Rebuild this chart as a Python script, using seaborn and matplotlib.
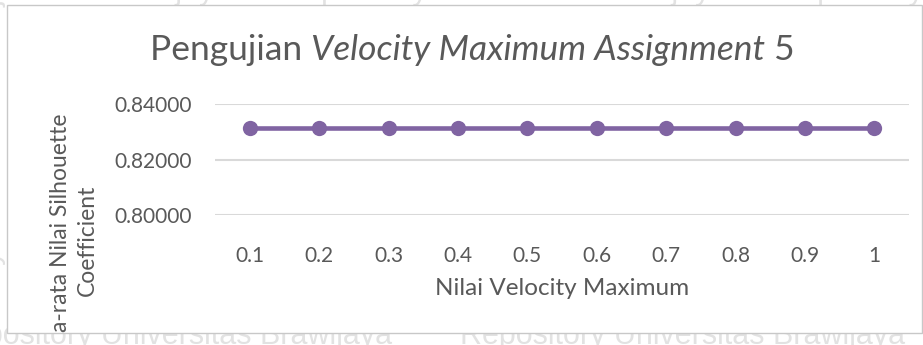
import matplotlib
matplotlib.use("Agg")
import matplotlib.pyplot as plt
import seaborn as sns
import pandas as pd
from matplotlib.patches import Rectangle
from matplotlib.transforms import Bbox, TransformedBbox
from matplotlib.ticker import FormatStrFormatter

# ---- data -------------------------------------------------------------
vmax_labels = ["0.1", "0.2", "0.3", "0.4", "0.5", "0.6", "0.7", "0.8", "0.9", "1"]
silhouette = [0.83146, 0.83146, 0.83146, 0.83146, 0.83146,
              0.83146, 0.83146, 0.83146, 0.83146, 0.83146]
y_ticks = [0.80, 0.82, 0.84]

df = pd.DataFrame({"vmax": vmax_labels, "silhouette": silhouette})

# ---- style ------------------------------------------------------------
sns.set_theme(style="white")
plt.rcParams["font.family"] = ["Lato", "DejaVu Sans"]
TXT = "#595959"
LINE = "#8064A2"
GRID = "#D9D9D9"

W, H = 923, 345
fig = plt.figure(figsize=(W / 100, H / 100), dpi=100)
fig.patch.set_facecolor("white")


def fx(px):
    return px / W


def fy(py):
    return 1 - py / H


# faint repository watermark around the chart frame
wm = dict(color="#e2e2e2", fontsize=22, family=["Liberation Sans", "DejaVu Sans"], zorder=0)
fig.text(fx(392), fy(344), "Repository Universitas Brawijaya", ha="right", va="baseline", **wm)
fig.text(fx(460), fy(344), "Repository Universitas Brawijaya", ha="left", va="baseline", **wm)
fig.text(fx(-60), fy(-1), "Universitas Brawijaya      Repository Universitas Brawijaya      Repository",
         ha="left", va="baseline", **wm)
fig.text(fx(-9), 0.5, "Repository Universitas Brawijaya", rotation=90, ha="center", va="center", **wm)

# chart frame
box_l, box_t, box_r, box_b = 7, 5, 922, 333
frame = Rectangle((fx(box_l), fy(box_b)), fx(box_r - box_l), (box_b - box_t) / H,
                  transform=fig.transFigure, facecolor="white", edgecolor="#c8c8c8",
                  linewidth=1.0, zorder=1)
fig.patches.append(frame)
frame.set_figure(fig)

# plot area
ax_l, ax_r, ax_t, ax_b = 215, 909, 104, 215
ax = fig.add_axes([fx(ax_l), fy(ax_b), fx(ax_r - ax_l), (ax_b - ax_t) / H])
ax.set_zorder(2)
ax.patch.set_alpha(0)

sns.lineplot(data=df, x="vmax", y="silhouette", ax=ax, color=LINE, linewidth=3.3,
             marker="o", markersize=11, markeredgewidth=0, sort=False)

ax.set_xlim(-0.5, len(vmax_labels) - 0.5)
ax.set_ylim(y_ticks[0], y_ticks[-1])
ax.set_yticks(y_ticks)
ax.yaxis.set_major_formatter(FormatStrFormatter("%.5f"))
ax.grid(axis="y", color=GRID, linewidth=1.5)
ax.grid(axis="x", visible=False)
for s in ax.spines.values():
    s.set_visible(False)
ax.tick_params(axis="both", length=0, labelsize=15, labelcolor=TXT)
ax.tick_params(axis="x", pad=22)
ax.tick_params(axis="y", pad=17)
ax.set_xlabel("Nilai Velocity Maximum", fontsize=17.5, color=TXT, labelpad=9)
ax.set_ylabel("")

# y-axis title, clipped by the chart frame
ylab = fig.text(fx(74), fy(240), "Rata-rata Nilai Silhouette\nCoefficient", rotation=90,
                ha="center", va="center", multialignment="center", fontsize=16.5,
                color=TXT, linespacing=1.3, zorder=3)
ylab.set_clip_on(True)
ylab.set_clip_box(TransformedBbox(Bbox([[fx(box_l), fy(box_b)], [fx(box_r), fy(box_t)]]),
                                  fig.transFigure))

# title with italic middle part
parts = [("Pengujian ", "normal"), ("Velocity Maximum Assignment", "italic"), (" 5", "normal")]
renderer = fig.canvas.get_renderer()
texts = []
for s, st in parts:
    t = fig.text(0, fy(60), s, fontsize=25.5, style=st, color=TXT, ha="left",
                 va="baseline", zorder=3)
    texts.append(t)
widths = [t.get_window_extent(renderer).width for t in texts]
x0 = 472 - sum(widths) / 2
for t, w in zip(texts, widths):
    t.set_x(fx(x0))
    x0 += w

fig.savefig("out.png", dpi=100)
